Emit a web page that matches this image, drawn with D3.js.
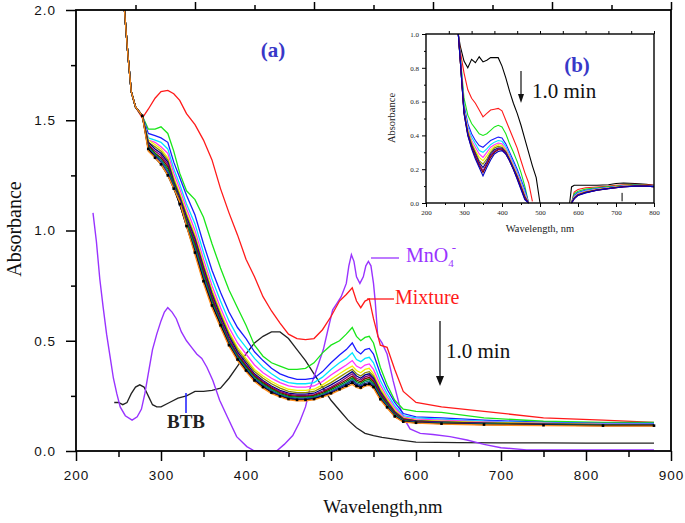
<!DOCTYPE html>
<html><head><meta charset="utf-8">
<script src="https://cdn.jsdelivr.net/npm/d3@7"></script>
<style>body{margin:0;background:#fff}</style>
</head><body>
<svg id="chart" width="685" height="523"></svg>
<script>
// ---------- main panel (a) data ----------
const xMajor = [200,300,400,500,600,700,800,900];
const xMinor = [250,350,450,550,650,750,850];
const yMajor = [0,0.5,1.0,1.5,2.0];
const yMinor = [0.25,0.75,1.25,1.75];

// shared wavelength grid for the time series (mixture) curves
const mixWL = [257,261,265,270,278, 285,293,300,308,315, 322,330,340,350,360, 370,380,390,400,410, 420,430,440,450,460, 470,480,490,500,510, 518,525,530,535,540, 545,550,558,566,575, 585,600,630,680,750, 820,880];

const mixRed     = [2.0,1.80,1.63,1.56,1.51, 1.55,1.60,1.63,1.635,1.62, 1.59,1.53,1.48,1.41,1.32, 1.19,1.08,0.98,0.87,0.79, 0.70,0.635,0.58,0.53,0.51, 0.505,0.51,0.55,0.61,0.68, 0.71,0.74,0.68,0.65,0.68, 0.69,0.60,0.48,0.47,0.37, 0.27,0.22,0.20,0.18,0.15, 0.14,0.13];
const mixGreen   = [2.0,1.80,1.63,1.56,1.52, 1.46,1.46,1.47,1.44,1.36, 1.26,1.18,1.14,1.06,0.94, 0.83,0.73,0.65,0.57,0.48, 0.43,0.40,0.385,0.37,0.37, 0.375,0.40,0.445,0.48,0.50, 0.53,0.56,0.52,0.50,0.515, 0.52,0.49,0.38,0.30,0.23, 0.19,0.18,0.175,0.15,0.135, 0.13,0.13];
const mixBlue    = [2.0,1.80,1.63,1.56,1.52, 1.44,1.43,1.42,1.40,1.31, 1.24,1.16,1.07,0.94,0.82, 0.72,0.63,0.56,0.51,0.45, 0.41,0.375,0.35,0.335,0.325, 0.325,0.33,0.36,0.40,0.435, 0.46,0.49,0.455,0.44,0.46, 0.465,0.44,0.35,0.28,0.22, 0.17,0.155,0.15,0.14,0.13, 0.125,0.125];
const mixCyan    = [2.0,1.80,1.63,1.56,1.52, 1.42,1.41,1.40,1.37,1.28, 1.21,1.12,1.03,0.90,0.78, 0.68,0.59,0.52,0.47,0.42, 0.38,0.35,0.325,0.31,0.305, 0.305,0.31,0.335,0.37,0.40, 0.42,0.445,0.415,0.405,0.42, 0.425,0.40,0.32,0.26,0.205, 0.16,0.15,0.145,0.135,0.128, 0.123,0.122];
const mixMagenta = [2.0,1.80,1.63,1.56,1.52, 1.41,1.40,1.38,1.35,1.26, 1.19,1.10,1.00,0.87,0.75, 0.65,0.56,0.49,0.44,0.39, 0.355,0.33,0.31,0.295,0.29, 0.29,0.295,0.315,0.345,0.37, 0.39,0.41,0.385,0.375,0.39, 0.395,0.37,0.30,0.245,0.195, 0.155,0.145,0.14,0.132,0.126, 0.122,0.121];
const mixYellow  = [2.0,1.80,1.63,1.56,1.52, 1.41,1.39,1.37,1.33,1.24, 1.17,1.08,0.98,0.85,0.73, 0.63,0.54,0.47,0.42,0.37, 0.34,0.315,0.295,0.28,0.275, 0.275,0.28,0.30,0.325,0.35, 0.37,0.385,0.365,0.355,0.37, 0.375,0.35,0.285,0.235,0.185, 0.15,0.14,0.135,0.13,0.125, 0.12,0.12];
const mixDkYel   = [2.0,1.80,1.63,1.56,1.52, 1.40,1.38,1.36,1.32,1.23, 1.16,1.07,0.97,0.84,0.72, 0.62,0.53,0.46,0.41,0.36, 0.33,0.305,0.285,0.27,0.265, 0.265,0.27,0.29,0.31,0.335, 0.355,0.37,0.35,0.34,0.355, 0.36,0.34,0.275,0.228,0.18, 0.148,0.138,0.133,0.128,0.124, 0.12,0.119];
const mixNavy    = [2.0,1.80,1.63,1.56,1.52, 1.40,1.37,1.35,1.31,1.22, 1.15,1.06,0.96,0.83,0.71, 0.61,0.52,0.45,0.40,0.35, 0.32,0.295,0.275,0.262,0.258, 0.258,0.262,0.28,0.30,0.322, 0.342,0.36,0.34,0.33,0.345, 0.35,0.33,0.268,0.222,0.176, 0.145,0.136,0.131,0.126,0.122, 0.119,0.118];
const mixPurple  = [2.0,1.80,1.63,1.56,1.52, 1.39,1.36,1.34,1.30,1.21, 1.14,1.05,0.95,0.82,0.70, 0.60,0.51,0.44,0.39,0.345, 0.315,0.29,0.27,0.257,0.252, 0.252,0.256,0.272,0.29,0.312, 0.332,0.35,0.33,0.322,0.336, 0.342,0.322,0.262,0.218,0.172, 0.143,0.134,0.13,0.125,0.121, 0.118,0.118];
const mixWine    = [2.0,1.80,1.63,1.56,1.52, 1.39,1.35,1.33,1.29,1.20, 1.13,1.04,0.94,0.81,0.69, 0.59,0.50,0.435,0.385,0.34, 0.31,0.285,0.265,0.252,0.248, 0.248,0.252,0.266,0.284,0.305, 0.322,0.34,0.322,0.314,0.328, 0.333,0.315,0.256,0.214,0.169, 0.141,0.132,0.128,0.124,0.12, 0.117,0.117];
const mixDkGreen = [2.0,1.80,1.63,1.56,1.52, 1.38,1.35,1.32,1.28,1.21, 1.13,1.04,0.93,0.80,0.68, 0.585,0.495,0.43,0.38,0.335, 0.305,0.28,0.26,0.248,0.244, 0.244,0.248,0.26,0.278,0.298, 0.315,0.332,0.315,0.307,0.32, 0.325,0.308,0.25,0.21,0.166, 0.139,0.131,0.127,0.123,0.119, 0.117,0.116];
const mixDkCyan  = [2.0,1.80,1.63,1.56,1.52, 1.38,1.34,1.32,1.27,1.20, 1.12,1.03,0.92,0.79,0.67, 0.58,0.49,0.425,0.375,0.33, 0.30,0.275,0.256,0.244,0.24, 0.24,0.244,0.256,0.272,0.292, 0.308,0.325,0.308,0.30,0.313, 0.318,0.302,0.245,0.206,0.163, 0.137,0.13,0.126,0.122,0.118, 0.116,0.116];
const mixRoyal   = [2.0,1.80,1.63,1.56,1.52, 1.37,1.34,1.31,1.26,1.20, 1.12,1.02,0.91,0.78,0.665, 0.575,0.485,0.42,0.37,0.325, 0.295,0.27,0.252,0.24,0.236, 0.236,0.24,0.252,0.267,0.286, 0.302,0.318,0.302,0.294,0.306, 0.311,0.296,0.24,0.202,0.16, 0.135,0.129,0.125,0.121,0.117, 0.115,0.115];
const mixBlack   = [2.0,1.80,1.63,1.56,1.52, 1.37,1.33,1.30,1.25,1.19, 1.12,1.02,0.90,0.77,0.66, 0.57,0.48,0.415,0.365,0.32, 0.29,0.265,0.248,0.236,0.232, 0.232,0.236,0.248,0.262,0.28, 0.296,0.31,0.295,0.288,0.30, 0.304,0.29,0.235,0.198,0.157, 0.133,0.128,0.124,0.12,0.117, 0.115,0.115];
const mixOrange  = [2.0,1.80,1.63,1.56,1.52, 1.36,1.33,1.30,1.25,1.19, 1.13,1.02,0.89,0.76,0.65, 0.56,0.475,0.41,0.36,0.315, 0.285,0.26,0.245,0.232,0.228, 0.228,0.232,0.244,0.258,0.276, 0.29,0.302,0.288,0.282,0.294, 0.298,0.285,0.232,0.195,0.155, 0.131,0.126,0.122,0.118,0.115, 0.113,0.113];

const mixSeries = [mixRed,mixGreen,mixBlue,mixCyan,mixMagenta,mixYellow,mixDkYel,mixNavy,mixPurple,mixWine,mixDkGreen,mixDkCyan,mixRoyal,mixBlack,mixOrange];
const mixColors = ["#ff1a1a","#19e619","#1a1aff","#00e5ff","#ff33ff","#f2f200","#8a8a00","#000080","#800080","#800000","#008000","#008080","#2020a0","#000000","#ff8c1a"];

// BTB reference spectrum
const btbWL = [245,250,255,260,265,270,275,280,285,290,295,300, 310,320,330,340,350,360,370,380,390,400,410,420,430,440,450,460,470,480,490,500,510,520,530,540,550, 560,580,600, 650,700,750,800,850,880];
const btbA  = [0.22,0.22,0.21,0.22,0.26,0.29,0.30,0.29,0.25,0.21,0.20,0.20, 0.22,0.24,0.25,0.27,0.27,0.275,0.285,0.33,0.385,0.44,0.49,0.52,0.54,0.54,0.51,0.46,0.41,0.35,0.29,0.23,0.185,0.14,0.105,0.08,0.07, 0.062,0.05,0.04, 0.038,0.037,0.037,0.036,0.036,0.036];

// MnO4- reference spectrum
const mnWL = [220,224,228,232,236,240,244,248,252,258, 266,272,277,281,285,290,295,300,304,308, 313,318,324,330,336,342,348,354,361,369, 378,389,401,410,420,436,445,455,463,470, 475,483,491,497,502,507,512,518,521,524, 527,530,534,538,541,544,547,550,552,555, 560,566,573,581,587,593,605,620,640,660, 680,700,730,780,830,880];
const mnA  = [1.08,0.95,0.78,0.65,0.53,0.43,0.33,0.26,0.20,0.16, 0.14,0.155,0.19,0.26,0.35,0.46,0.53,0.59,0.63,0.65, 0.63,0.60,0.54,0.50,0.47,0.44,0.42,0.38,0.32,0.23, 0.155,0.065,0.02,0.0,0.0,0.0,0.03,0.07,0.13,0.20, 0.28,0.37,0.46,0.56,0.64,0.67,0.70,0.76,0.84,0.89, 0.86,0.79,0.76,0.79,0.84,0.86,0.84,0.76,0.68,0.52, 0.49,0.44,0.32,0.20,0.14,0.10,0.08,0.075,0.065,0.05, 0.03,0.015,0.005,0.005,0.005,0.005];

// ---------- inset panel (b) data ----------
const insXTicks = [200,300,400,500,600,700,800];
const insXMinor = [250,350,450,550,650,750];
const insYTicks = [0,0.2,0.4,0.6,0.8,1.0];
const insYMinor = [0.1,0.3,0.5,0.7,0.9];
const insWLa = [285,290,300,310,320,330,340,350,360,370,380,390,400,410,420,430,440,450,460,470,480,490,500];
const insWLb = [578,583,590,600,620,650,680,700,720,750,780,800];

const insBlackA   = [1.0,0.93,0.84,0.80,0.85,0.83,0.865,0.835,0.845,0.86,0.86,0.86,0.81,0.74,0.66,0.59,0.53,0.46,0.38,0.30,0.22,0.15,0.0];
const insRedA     = [1.0,0.90,0.77,0.67,0.62,0.59,0.55,0.51,0.53,0.55,0.555,0.56,0.545,0.49,0.435,0.38,0.325,0.25,0.18,0.12,0.01];
const insGreenA   = [1.0,0.88,0.62,0.52,0.47,0.44,0.41,0.40,0.41,0.43,0.45,0.46,0.45,0.41,0.35,0.30,0.245,0.18,0.10,0.0];
const insBlueA    = [1.0,0.87,0.58,0.47,0.41,0.37,0.34,0.33,0.35,0.37,0.38,0.39,0.385,0.35,0.30,0.25,0.20,0.14,0.08,0.0];
const insCyanA    = [1.0,0.86,0.56,0.45,0.39,0.35,0.31,0.30,0.32,0.345,0.36,0.37,0.365,0.335,0.285,0.235,0.185,0.125,0.065,0.0];
const insMagentaA = [1.0,0.86,0.55,0.44,0.37,0.33,0.29,0.27,0.30,0.33,0.345,0.355,0.35,0.32,0.275,0.225,0.175,0.115,0.055,0.0];
const insYellowA  = [1.0,0.85,0.55,0.43,0.36,0.31,0.27,0.25,0.28,0.315,0.335,0.345,0.34,0.31,0.265,0.215,0.165,0.105,0.045,0.0];
const insOliveA   = [1.0,0.85,0.54,0.42,0.35,0.30,0.25,0.23,0.26,0.30,0.325,0.335,0.33,0.305,0.26,0.21,0.16,0.10,0.04,0.0];
const insNavyA    = [1.0,0.85,0.54,0.41,0.34,0.29,0.24,0.21,0.245,0.29,0.315,0.325,0.325,0.30,0.255,0.205,0.155,0.095,0.035,0.0];
const insPurpleA  = [1.0,0.85,0.54,0.41,0.33,0.28,0.23,0.19,0.235,0.28,0.305,0.32,0.32,0.295,0.25,0.20,0.15,0.09,0.03,0.0];
const insWineA    = [1.0,0.85,0.53,0.40,0.33,0.27,0.22,0.18,0.225,0.27,0.30,0.315,0.315,0.29,0.25,0.20,0.145,0.085,0.025,0.0];
const insBottomA  = [1.0,0.85,0.53,0.40,0.32,0.26,0.21,0.16,0.21,0.255,0.29,0.305,0.31,0.29,0.25,0.20,0.14,0.08,0.02,0.0];

const insBlackB   = [0,0.095,0.105,0.105,0.105,0.105,0.108,0.115,0.118,0.115,0.11,0.105];
const insRedB     = [null,0,0.065,0.08,0.09,0.095,0.10,0.105,0.108,0.11,0.108,0.105];
const insGreenB   = [null,0,0.055,0.07,0.082,0.09,0.097,0.10,0.105,0.108,0.105,0.102];
const insBlueB    = [null,0,0.045,0.062,0.075,0.085,0.093,0.097,0.102,0.105,0.103,0.10];
const insCyanB    = [null,0,0.04,0.058,0.072,0.083,0.091,0.096,0.10,0.104,0.102,0.10];
const insMagentaB = [null,0,0.035,0.055,0.07,0.081,0.09,0.095,0.10,0.103,0.101,0.099];
const insYellowB  = [null,0,0.032,0.052,0.067,0.079,0.088,0.094,0.099,0.102,0.10,0.098];
const insOliveB   = [null,0,0.03,0.05,0.065,0.078,0.087,0.093,0.098,0.101,0.10,0.098];
const insNavyB    = [null,0,0.028,0.048,0.063,0.077,0.086,0.092,0.097,0.10,0.10,0.097];
const insPurpleB  = [null,0,0.027,0.047,0.062,0.076,0.086,0.091,0.096,0.10,0.10,0.097];
const insWineB    = [null,0,0.026,0.046,0.061,0.076,0.085,0.091,0.096,0.10,0.10,0.097];
const insBottomB  = [null,0,0.025,0.045,0.06,0.075,0.085,0.09,0.095,0.10,0.10,0.097];

const insSeriesA = [insBlackA,insRedA,insGreenA,insBlueA,insCyanA,insMagentaA,insYellowA,insOliveA,insNavyA,insPurpleA,insWineA,insBottomA];
const insSeriesB = [insBlackB,insRedB,insGreenB,insBlueB,insCyanB,insMagentaB,insYellowB,insOliveB,insNavyB,insPurpleB,insWineB,insBottomB];
const insColors  = ["#000000","#ff1a1a","#19e619","#1a1aff","#00e5ff","#ff33ff","#f2f200","#8a8a00","#000080","#800080","#800000","#0000c0"];

// ---------- drawing ----------
const svg = d3.select("#chart");
svg.append("rect").attr("width",685).attr("height",523).attr("fill","#fff");

const x = d3.scaleLinear().domain([200,900]).range([76,671]);
const y = d3.scaleLinear().domain([0,2]).range([451,10]);

svg.append("defs").append("clipPath").attr("id","clipMain")
  .append("rect").attr("x",x(200)).attr("y",y(2)).attr("width",x(900)-x(200)).attr("height",y(0)-y(2));

const plot = svg.append("g").attr("clip-path","url(#clipMain)");
const pairs = (wl, arr) => wl.map((w,i)=>[w, i < arr.length ? arr[i] : null]);
const mLine = d3.line().defined(d=>d[1]!=null).x(d=>x(d[0])).y(d=>y(d[1]));

// BTB and MnO4
plot.append("path").datum(pairs(btbWL,btbA)).attr("d",mLine)
  .attr("fill","none").attr("stroke","#222").attr("stroke-width",1.3);
plot.append("path").datum(pairs(mnWL,mnA)).attr("d",mLine)
  .attr("fill","none").attr("stroke","#9933ff").attr("stroke-width",1.4);

// time series
mixSeries.forEach((arr,i)=>{
  plot.append("path").datum(pairs(mixWL,arr)).attr("d",mLine)
    .attr("fill","none").attr("stroke",mixColors[i]).attr("stroke-width",1.3);
});
// symbols on the black series
plot.selectAll("rect.sym").data(pairs(mixWL,mixBlack).slice(4)).join("rect")
  .attr("class","sym").attr("x",d=>x(d[0])-1.3).attr("y",d=>y(d[1])-1.3)
  .attr("width",2.6).attr("height",2.6).attr("fill","#000");

// axes
function styleAxis(g){ g.select(".domain").remove(); g.selectAll(".tick line").attr("stroke","#000").attr("stroke-width",1.5); }
const tickFont = g => g.selectAll("text").attr("font-family","'Liberation Sans', Arial, sans-serif")
  .attr("font-size","13.5px").attr("letter-spacing","1px").attr("fill","#111");

svg.append("g").attr("transform",`translate(0,${y(0)})`)
  .call(d3.axisBottom(x).tickValues(xMajor).tickSize(10).tickPadding(9).tickFormat(d3.format("d")))
  .call(styleAxis).call(tickFont);
svg.append("g").attr("transform",`translate(0,${y(0)})`)
  .call(d3.axisBottom(x).tickValues(xMinor).tickSize(6).tickFormat(""))
  .call(styleAxis);
svg.append("g").attr("transform",`translate(${x(200)},0)`)
  .call(d3.axisLeft(y).tickValues(yMajor).tickSize(10).tickPadding(10).tickFormat(d3.format(".1f")))
  .call(styleAxis).call(tickFont);
svg.append("g").attr("transform",`translate(${x(200)},0)`)
  .call(d3.axisLeft(y).tickValues(yMinor).tickSize(5).tickFormat(""))
  .call(styleAxis);
const xTop = d3.scaleLinear().domain([0,10]).range([x(200),x(900)]);
svg.append("g").attr("transform",`translate(0,${y(2)})`)
  .call(d3.axisTop(xTop).tickValues([2,4,6,8,10]).tickSize(8).tickFormat(""))
  .call(styleAxis);
svg.append("g").attr("transform",`translate(0,${y(2)})`)
  .call(d3.axisTop(xTop).tickValues([1,3,5,7,9]).tickSize(5).tickFormat(""))
  .call(styleAxis);

svg.append("rect").attr("x",x(200)).attr("y",y(2)).attr("width",x(900)-x(200)).attr("height",y(0)-y(2))
  .attr("fill","none").attr("stroke","#000").attr("stroke-width",1.8);

// axis titles
const serif = "'Liberation Serif','Times New Roman',serif";
svg.append("text").attr("transform","translate(21,229) rotate(-90)").attr("text-anchor","middle")
  .attr("font-family",serif).attr("font-size","20px").attr("fill","#111").text("Absorbance");
svg.append("text").attr("x",383).attr("y",513).attr("text-anchor","middle")
  .attr("font-family",serif).attr("font-size","19px").attr("fill","#111").text("Wavelength,nm");

// annotations
svg.append("text").attr("x",273).attr("y",57).attr("text-anchor","middle").attr("font-family",serif)
  .attr("font-weight","bold").attr("font-size","21px").attr("fill","#3838c8").text("(a)");
const mn = svg.append("text").attr("x",406).attr("y",262).attr("font-family",serif)
  .attr("font-size","20px").attr("fill","#9933ff");
mn.append("tspan").text("MnO");
mn.append("tspan").attr("font-size","11px").attr("dy",5).text("4");
mn.append("tspan").attr("font-size","13px").attr("dx",-2).attr("dy",-15).text("-");
svg.append("line").attr("x1",371).attr("x2",399).attr("y1",258).attr("y2",258).attr("stroke","#9933ff").attr("stroke-width",1.3);
svg.append("text").attr("x",395).attr("y",304).attr("font-family",serif)
  .attr("font-size","20px").attr("fill","#ff1a1a").text("Mixture");
svg.append("line").attr("x1",367).attr("x2",394).attr("y1",299).attr("y2",299).attr("stroke","#ff1a1a").attr("stroke-width",1.3);
svg.append("text").attr("x",446).attr("y",358).attr("font-family",serif)
  .attr("font-size","21px").attr("fill","#111").text("1.0 min");
svg.append("line").attr("x1",440).attr("x2",440).attr("y1",321).attr("y2",377).attr("stroke","#111").attr("stroke-width",1.3);
svg.append("path").attr("d","M436,376 L444,376 L440,386 Z").attr("fill","#111");
svg.append("text").attr("x",167).attr("y",428).attr("font-family",serif).attr("font-weight","bold")
  .attr("font-size","19px").attr("fill","#222").text("BTB");
svg.append("line").attr("x1",186).attr("x2",186).attr("y1",393).attr("y2",413).attr("stroke","#1a1aff").attr("stroke-width",1.5);

// ---------- inset ----------
const xi = d3.scaleLinear().domain([200,800]).range([426,654]);
const yi = d3.scaleLinear().domain([0,1]).range([203,34]);
const ins = svg.append("g");
ins.append("rect").attr("x",xi(200)).attr("y",yi(1)).attr("width",xi(800)-xi(200)).attr("height",yi(0)-yi(1)).attr("fill","#fff");
const iLine = d3.line().defined(d=>d[1]!=null).x(d=>xi(d[0])).y(d=>yi(d[1]));
insSeriesA.forEach((arr,i)=>{
  ins.append("path").datum(pairs(insWLa,arr)).attr("d",iLine)
    .attr("fill","none").attr("stroke",insColors[i]).attr("stroke-width",1.1);
});
insSeriesB.forEach((arr,i)=>{
  ins.append("path").datum(pairs(insWLb,arr)).attr("d",iLine)
    .attr("fill","none").attr("stroke",insColors[i]).attr("stroke-width",1.1);
});
ins.append("line").attr("x1",xi(716)).attr("x2",xi(716)).attr("y1",yi(0.06)).attr("y2",yi(0.01)).attr("stroke","#000").attr("stroke-width",1);

const smallFont = g => g.selectAll("text").attr("font-family",serif).attr("font-size","7px").attr("fill","#222");
function styleAxisS(g){ g.select(".domain").remove(); g.selectAll(".tick line").attr("stroke","#000").attr("stroke-width",1); }
ins.append("g").attr("transform",`translate(0,${yi(0)})`)
  .call(d3.axisBottom(xi).tickValues(insXTicks).tickSize(4).tickPadding(3).tickFormat(d3.format("d")))
  .call(styleAxisS).call(smallFont);
ins.append("g").attr("transform",`translate(0,${yi(0)})`)
  .call(d3.axisBottom(xi).tickValues(insXMinor).tickSize(2).tickFormat(""))
  .call(styleAxisS);
ins.append("g").attr("transform",`translate(${xi(200)},0)`)
  .call(d3.axisLeft(yi).tickValues(insYTicks).tickSize(4).tickPadding(3).tickFormat(d3.format(".1f")))
  .call(styleAxisS).call(smallFont);
ins.append("g").attr("transform",`translate(${xi(200)},0)`)
  .call(d3.axisLeft(yi).tickValues(insYMinor).tickSize(2).tickFormat(""))
  .call(styleAxisS);
const xiTop = d3.scaleLinear().domain([0,10]).range([xi(200),xi(800)]);
ins.append("g").attr("transform",`translate(0,${yi(1)})`)
  .call(d3.axisTop(xiTop).tickValues([1,2,3,4,5,6,7,8,9,10]).tickSize(3).tickFormat(""))
  .call(styleAxisS);
ins.append("rect").attr("x",xi(200)).attr("y",yi(1)).attr("width",xi(800)-xi(200)).attr("height",yi(0)-yi(1))
  .attr("fill","none").attr("stroke","#000").attr("stroke-width",1.4);
ins.append("text").attr("transform","translate(395,118) rotate(-90)").attr("text-anchor","middle")
  .attr("font-family",serif).attr("font-size","10.5px").attr("fill","#222").text("Absorbance");
ins.append("text").attr("x",540).attr("y",232).attr("text-anchor","middle")
  .attr("font-family",serif).attr("font-size","10.5px").attr("fill","#222").text("Wavelength, nm");
ins.append("text").attr("x",577).attr("y",72).attr("text-anchor","middle").attr("font-family",serif)
  .attr("font-weight","bold").attr("font-size","21px").attr("fill","#3838c8").text("(b)");
ins.append("text").attr("x",532).attr("y",98).attr("font-family",serif)
  .attr("font-size","21px").attr("fill","#111").text("1.0 min");
ins.append("line").attr("x1",521).attr("x2",521).attr("y1",71).attr("y2",95).attr("stroke","#111").attr("stroke-width",1.2);
ins.append("path").attr("d","M518,94 L524,94 L521,103 Z").attr("fill","#111");
</script>
</body></html>
